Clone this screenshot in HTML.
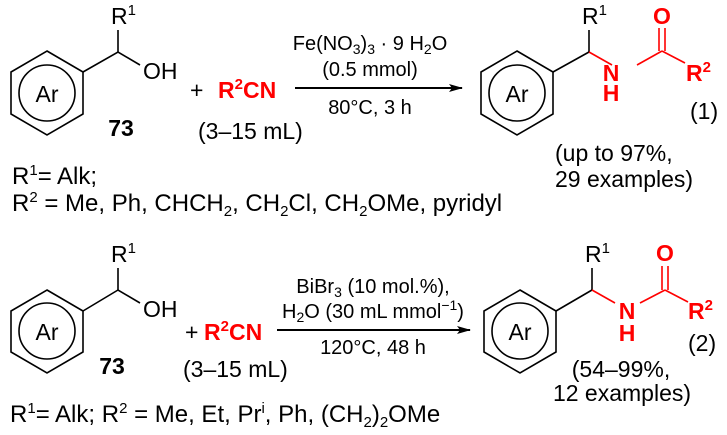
<!DOCTYPE html>
<html><head><style>
html,body{margin:0;padding:0;background:#fff;}
svg{display:block;}
text{font-family:"Liberation Sans",Arial,sans-serif;fill:#000;}
.r{fill:#f00;}
.b{font-weight:bold;}
</style></head><body>
<svg width="727" height="435" viewBox="0 0 727 435" xmlns="http://www.w3.org/2000/svg">
<defs>
<marker id="ah" markerWidth="14" markerHeight="8" refX="13" refY="4" orient="auto" markerUnits="userSpaceOnUse">
<path d="M0,0 L14,4 L0,8 L3,4 Z" fill="#000"/>
</marker>
</defs>
<g stroke="#000" stroke-width="1.6" fill="none">
<polygon points="47,51 83,72 83,114 47,135 11,114 11,72"/>
<circle cx="47" cy="93" r="28"/>
<polyline points="83,72 118,52 140,65"/>
<line x1="118" y1="52" x2="118" y2="30"/>
<line x1="295" y1="88" x2="462" y2="88" stroke-width="2" marker-end="url(#ah)"/>
<polygon points="517,51 553,72 553,114 517,135 481,114 481,72"/>
<circle cx="517" cy="93" r="28"/>
<line x1="553" y1="72" x2="589" y2="52"/>
<line x1="589" y1="52" x2="589" y2="30"/>
<polygon points="47,290 83,311 83,352 47,373 11,352 11,311"/>
<circle cx="47" cy="331" r="28"/>
<polyline points="83,311 118,290 140,303"/>
<line x1="118" y1="290" x2="118" y2="268"/>
<line x1="277" y1="330" x2="470" y2="330" stroke-width="2" marker-end="url(#ah)"/>
<polygon points="520,290 556,311 556,352 520,373 484,352 484,311"/>
<circle cx="520" cy="331" r="28"/>
<line x1="556" y1="311" x2="592" y2="290"/>
<line x1="592" y1="290" x2="592" y2="268"/>
</g>
<g stroke="#f00" stroke-width="1.6" fill="none">
<line x1="589" y1="52" x2="612" y2="65"/>
<line x1="637" y1="65" x2="662" y2="51"/>
<line x1="662" y1="51" x2="685" y2="63"/>
<line x1="659" y1="51" x2="659" y2="28"/>
<line x1="665" y1="51" x2="665" y2="28"/>
<line x1="592" y1="290" x2="615" y2="303"/>
<line x1="640" y1="303" x2="665" y2="290"/>
<line x1="665" y1="290" x2="688" y2="302"/>
<line x1="662" y1="290" x2="662" y2="266"/>
<line x1="668" y1="290" x2="668" y2="266"/>
</g>
<g font-size="23">
<text x="47" y="102" text-anchor="middle">Ar</text>
<text x="111" y="24">R<tspan font-size="15" dy="-9">1</tspan></text>
<text x="143" y="79">OH</text>
<text x="190" y="98">+</text>
<text x="218" y="98" class="r b">R<tspan font-size="15" dy="-9">2</tspan><tspan dy="9">CN</tspan></text>
<text x="121" y="136" class="b" text-anchor="middle">73</text>
<text x="198" y="139">(3–15 mL)</text>
<text x="370" y="50" text-anchor="middle" font-size="20">Fe(NO<tspan font-size="14" dy="4">3</tspan><tspan dy="-4">)</tspan><tspan font-size="14" dy="4">3</tspan><tspan dy="-4"> · 9 H</tspan><tspan font-size="14" dy="4">2</tspan><tspan dy="-4">O</tspan></text>
<text x="370" y="76" text-anchor="middle" font-size="20">(0.5 mmol)</text>
<text x="370" y="114" text-anchor="middle" font-size="20">80°C, 3 h</text>
<text x="517" y="102" text-anchor="middle">Ar</text>
<text x="582" y="24">R<tspan font-size="15" dy="-9">1</tspan></text>
<text x="611" y="81" class="r b" text-anchor="middle">N</text>
<text x="611" y="101" class="r b" text-anchor="middle">H</text>
<text x="662" y="24" class="r b" text-anchor="middle">O</text>
<text x="686" y="81" class="r b">R<tspan font-size="15" dy="-9">2</tspan></text>
<text x="690" y="119">(1)</text>
<text x="555" y="161">(up to 97%,</text>
<text x="555" y="187">29 examples)</text>
<text x="12" y="184" font-size="24">R<tspan font-size="15" dy="-9">1</tspan><tspan dy="9">= Alk;</tspan></text>
<text x="12" y="211" font-size="24">R<tspan font-size="15" dy="-9">2</tspan><tspan dy="9"> = Me, Ph, CHCH</tspan><tspan font-size="15" dy="5">2</tspan><tspan dy="-5">, CH</tspan><tspan font-size="15" dy="5">2</tspan><tspan dy="-5">Cl, CH</tspan><tspan font-size="15" dy="5">2</tspan><tspan dy="-5">OMe, pyridyl</tspan></text>
<text x="47" y="340" text-anchor="middle">Ar</text>
<text x="111" y="262">R<tspan font-size="15" dy="-9">1</tspan></text>
<text x="143" y="317">OH</text>
<text x="185" y="340">+</text>
<text x="204" y="340" class="r b">R<tspan font-size="15" dy="-9">2</tspan><tspan dy="9">CN</tspan></text>
<text x="112" y="374" class="b" text-anchor="middle">73</text>
<text x="183" y="377">(3–15 mL)</text>
<text x="373" y="293" text-anchor="middle" font-size="20">BiBr<tspan font-size="14" dy="4">3</tspan><tspan dy="-4"> (10 mol.%),</tspan></text>
<text x="373" y="318" text-anchor="middle" font-size="20">H<tspan font-size="14" dy="4">2</tspan><tspan dy="-4">O (30 mL mmol</tspan><tspan font-size="14" dy="-8">−1</tspan><tspan dy="8">)</tspan></text>
<text x="373" y="354" text-anchor="middle" font-size="20">120°C, 48 h</text>
<text x="520" y="340" text-anchor="middle">Ar</text>
<text x="585" y="262">R<tspan font-size="15" dy="-9">1</tspan></text>
<text x="627" y="319" class="r b" text-anchor="middle">N</text>
<text x="627" y="341" class="r b" text-anchor="middle">H</text>
<text x="665" y="261" class="r b" text-anchor="middle">O</text>
<text x="688" y="319" class="r b">R<tspan font-size="15" dy="-9">2</tspan></text>
<text x="688" y="351">(2)</text>
<text x="621" y="377" text-anchor="middle">(54–99%,</text>
<text x="622" y="401" text-anchor="middle">12 examples)</text>
<text x="10" y="422" font-size="24">R<tspan font-size="15" dy="-9">1</tspan><tspan dy="9">= Alk; R</tspan><tspan font-size="15" dy="-9">2</tspan><tspan dy="9"> = Me, Et, Pr</tspan><tspan font-size="15" dy="-9">i</tspan><tspan dy="9">, Ph, (CH</tspan><tspan font-size="15" dy="5">2</tspan><tspan dy="-5">)</tspan><tspan font-size="15" dy="5">2</tspan><tspan dy="-5">OMe</tspan></text>
</g>
</svg>
</body></html>
